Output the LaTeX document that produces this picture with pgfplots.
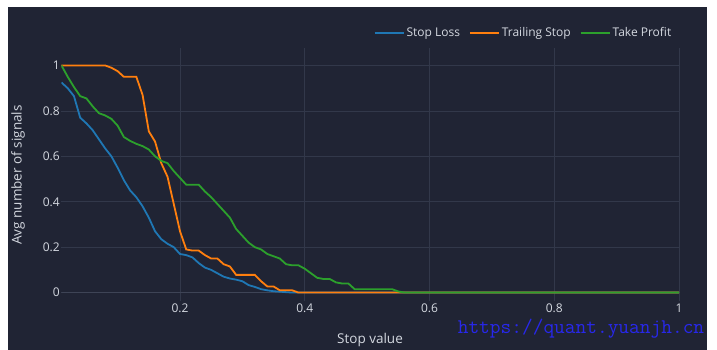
\documentclass[border=0pt]{standalone}
\usepackage{fontspec}
\setmainfont{Open Sans}
\usepackage{pgfplots}
\usepackage{pgfplotstable}
\pgfplotsset{compat=1.18}
\definecolor{bgc}{RGB}{32,36,52}
\definecolor{gridc}{RGB}{50,56,74}
\definecolor{zeroc}{RGB}{62,68,86}
\definecolor{txtc}{RGB}{212,216,224}
\definecolor{c1}{HTML}{1F77B4}
\definecolor{c2}{HTML}{FF7F0E}
\definecolor{c3}{HTML}{2CA02C}
\definecolor{wmc}{RGB}{40,40,235}

\pgfplotstableread{
x sl ts tp
0.01 0.925 1.0 1.0
0.02 0.90 1.0 0.95
0.03 0.865 1.0 0.905
0.04 0.77 1.0 0.865
0.05 0.745 1.0 0.855
0.06 0.715 1.0 0.82
0.07 0.675 1.0 0.79
0.08 0.635 1.0 0.78
0.09 0.60 0.99 0.765
0.10 0.55 0.975 0.735
0.11 0.495 0.95 0.685
0.12 0.45 0.95 0.668
0.13 0.42 0.95 0.655
0.14 0.38 0.87 0.645
0.15 0.33 0.71 0.63
0.16 0.27 0.665 0.60
0.17 0.235 0.57 0.58
0.18 0.215 0.51 0.57
0.19 0.20 0.39 0.535
0.20 0.17 0.27 0.505
0.21 0.165 0.19 0.475
0.22 0.155 0.185 0.475
0.23 0.13 0.185 0.475
0.24 0.11 0.165 0.445
0.25 0.10 0.15 0.42
0.26 0.085 0.15 0.39
0.27 0.07 0.125 0.36
0.28 0.062 0.115 0.33
0.29 0.057 0.078 0.28
0.30 0.05 0.078 0.25
0.31 0.033 0.078 0.22
0.32 0.025 0.078 0.20
0.33 0.015 0.05 0.19
0.34 0.01 0.027 0.17
0.35 0.006 0.027 0.16
0.36 0.004 0.01 0.15
0.37 0.002 0.01 0.125
0.38 0 0.01 0.12
0.39 0 0 0.12
0.40 0 0 0.105
0.41 0 0 0.085
0.42 0 0 0.065
0.43 0 0 0.06
0.44 0 0 0.06
0.45 0 0 0.045
0.46 0 0 0.04
0.47 0 0 0.04
0.48 0 0 0.015
0.49 0 0 0.015
0.50 0 0 0.015
0.51 0 0 0.015
0.52 0 0 0.015
0.53 0 0 0.015
0.54 0 0 0.015
0.55 0 0 0.005
0.56 0 0 0
0.60 0 0 0
0.70 0 0 0
0.80 0 0 0
0.90 0 0 0
1.00 0 0 0
}\datatable

\begin{document}
\begin{tikzpicture}
\useasboundingbox (-61.5pt,-49pt) rectangle ++(717pt,350pt);
\fill[white] (-61.5pt,-49pt) rectangle ++(717pt,350pt);
\fill[bgc] (-53.5pt,-49pt) rectangle (645.5pt,294pt);
\begin{axis}[
  at={(0pt,0pt)}, anchor=south west,
  scale only axis, width=617.5pt, height=253pt,
  xmin=0.01, xmax=1, ymin=-0.037, ymax=1.077,
  xtick={0.2,0.4,0.6,0.8,1}, ytick={0,0.2,0.4,0.6,0.8,1},
  xticklabels={0.2,0.4,0.6,0.8,1},
  yticklabels={0,0.2,0.4,0.6,0.8,1},
  grid=major, major grid style={gridc, line width=0.8pt},
  axis line style={draw=none}, major tick length=0pt,
  ticklabel style={font=\fontsize{12}{14}\selectfont, text=txtc},
  yticklabel style={inner sep=1.5pt},
  xticklabel style={inner sep=2pt, yshift=-1pt},
  legend columns=3,
  legend style={at={(0.996,1.06)}, anchor=east, draw=none, fill=none,
    text=txtc, font=\fontsize{12}{14}\selectfont,
    /tikz/every even column/.append style={column sep=7pt}},
  legend image code/.code={\draw[#1] (0pt,0pt) -- (29pt,0pt);},
]
\addplot[zeroc, line width=1.2pt, forget plot] coordinates {(0.01,0) (1,0)};
\addplot[c1, line width=1.8pt] table[x=x,y=sl] {\datatable};
\addlegendentry{Stop Loss}
\addplot[c2, line width=1.8pt] table[x=x,y=ts] {\datatable};
\addlegendentry{Trailing Stop}
\addplot[c3, line width=1.8pt] table[x=x,y=tp] {\datatable};
\addlegendentry{Take Profit}
\end{axis}
\node[rotate=90, text=txtc, font=\fontsize{13.5}{16}\selectfont] at (-43.5pt,126pt) {Avg number of signals};
\node[text=txtc, font=\fontsize{13.5}{16}\selectfont] at (308.5pt,-39pt) {Stop value};
\node[text=wmc, font=\ttfamily\fontsize{20.8}{22}\selectfont, inner sep=0pt] at (519.5pt,-28pt) {https://quant.yuanjh.cn};
\end{tikzpicture}
\end{document}
